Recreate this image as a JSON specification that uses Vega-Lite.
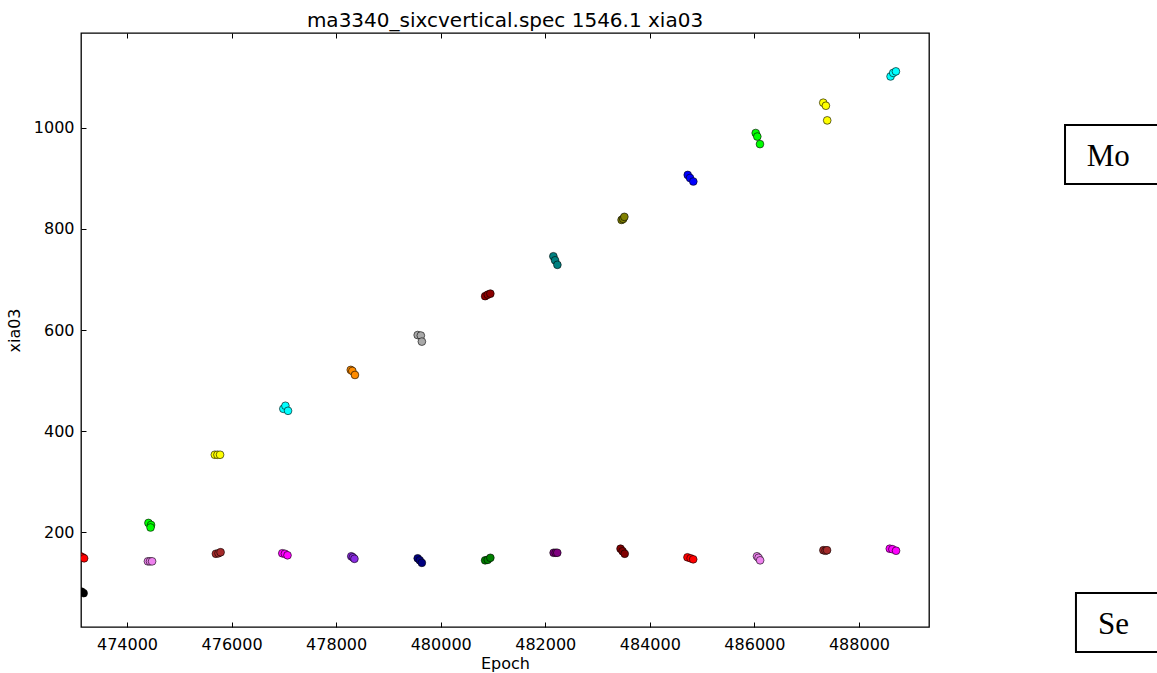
{
  "$schema": "https://vega.github.io/schema/vega-lite/v6.json",
  "autosize": "none",
  "width": 848,
  "height": 594,
  "padding": {"left": 81, "top": 33, "right": 228, "bottom": 46},
  "background": "white",
  "title": {
    "text": "ma3340_sixcvertical.spec 1546.1 xia03",
    "font": "DejaVu Sans",
    "fontSize": 20,
    "fontWeight": "normal",
    "color": "black",
    "anchor": "middle",
    "offset": 2
  },
  "config": {
    "view": {"stroke": "black", "strokeWidth": 1.3},
    "axis": {
      "labelFont": "DejaVu Sans",
      "labelFontSize": 16,
      "labelColor": "black",
      "titleFont": "DejaVu Sans",
      "titleFontSize": 16,
      "titleFontWeight": "normal",
      "titleColor": "black",
      "tickColor": "black",
      "tickSize": -5,
      "domain": false,
      "grid": false
    }
  },
  "datasets": {
    "obs": [
      {"set": "L01", "epoch": 473110, "value": 152},
      {"set": "L01", "epoch": 473150, "value": 150},
      {"set": "L01", "epoch": 473180, "value": 148},
      {"set": "U01", "epoch": 473130, "value": 82},
      {"set": "U01", "epoch": 473170, "value": 79},
      {"set": "L02", "epoch": 474400, "value": 142},
      {"set": "L02", "epoch": 474440, "value": 142},
      {"set": "L02", "epoch": 474480, "value": 142},
      {"set": "U02", "epoch": 474410, "value": 218},
      {"set": "U02", "epoch": 474460, "value": 214},
      {"set": "U02", "epoch": 474450, "value": 209},
      {"set": "L03", "epoch": 475700, "value": 157},
      {"set": "L03", "epoch": 475750, "value": 158},
      {"set": "L03", "epoch": 475790, "value": 160},
      {"set": "U03", "epoch": 475680, "value": 353},
      {"set": "U03", "epoch": 475730, "value": 353},
      {"set": "U03", "epoch": 475780, "value": 353},
      {"set": "L04", "epoch": 476970, "value": 158},
      {"set": "L04", "epoch": 477020, "value": 157},
      {"set": "L04", "epoch": 477070, "value": 154},
      {"set": "U04", "epoch": 476990, "value": 444},
      {"set": "U04", "epoch": 477030, "value": 450},
      {"set": "U04", "epoch": 477080, "value": 440},
      {"set": "L05", "epoch": 478290, "value": 152},
      {"set": "L05", "epoch": 478320, "value": 150},
      {"set": "L05", "epoch": 478350, "value": 147},
      {"set": "U05", "epoch": 478280, "value": 521},
      {"set": "U05", "epoch": 478310, "value": 519},
      {"set": "U05", "epoch": 478360, "value": 511},
      {"set": "L06", "epoch": 479560, "value": 148},
      {"set": "L06", "epoch": 479600, "value": 144},
      {"set": "L06", "epoch": 479640, "value": 139},
      {"set": "U06", "epoch": 479560, "value": 590},
      {"set": "U06", "epoch": 479620, "value": 589},
      {"set": "U06", "epoch": 479640, "value": 577},
      {"set": "L07", "epoch": 480850, "value": 144},
      {"set": "L07", "epoch": 480900, "value": 145},
      {"set": "L07", "epoch": 480950, "value": 149},
      {"set": "U07", "epoch": 480850, "value": 667},
      {"set": "U07", "epoch": 480900, "value": 670},
      {"set": "U07", "epoch": 480950, "value": 672},
      {"set": "L08", "epoch": 482160, "value": 159},
      {"set": "L08", "epoch": 482200, "value": 159},
      {"set": "L08", "epoch": 482230, "value": 159},
      {"set": "U08", "epoch": 482155, "value": 746},
      {"set": "U08", "epoch": 482188, "value": 738},
      {"set": "U08", "epoch": 482232, "value": 729},
      {"set": "L09", "epoch": 483440, "value": 167},
      {"set": "L09", "epoch": 483480, "value": 162},
      {"set": "L09", "epoch": 483520, "value": 157},
      {"set": "U09", "epoch": 483460, "value": 818},
      {"set": "U09", "epoch": 483490, "value": 820},
      {"set": "U09", "epoch": 483513, "value": 824},
      {"set": "L10", "epoch": 484720, "value": 150},
      {"set": "L10", "epoch": 484780, "value": 148},
      {"set": "L10", "epoch": 484830, "value": 146},
      {"set": "U10", "epoch": 484725, "value": 907},
      {"set": "U10", "epoch": 484769, "value": 901},
      {"set": "U10", "epoch": 484832, "value": 894},
      {"set": "L11", "epoch": 486050, "value": 152},
      {"set": "L11", "epoch": 486080, "value": 149},
      {"set": "L11", "epoch": 486110, "value": 144},
      {"set": "U11", "epoch": 486025, "value": 990},
      {"set": "U11", "epoch": 486056, "value": 983},
      {"set": "U11", "epoch": 486107, "value": 968},
      {"set": "L12", "epoch": 487320, "value": 164},
      {"set": "L12", "epoch": 487360, "value": 163},
      {"set": "L12", "epoch": 487390, "value": 164},
      {"set": "U12", "epoch": 487317, "value": 1050},
      {"set": "U12", "epoch": 487368, "value": 1044},
      {"set": "U12", "epoch": 487393, "value": 1015},
      {"set": "L13", "epoch": 488590, "value": 167},
      {"set": "L13", "epoch": 488640, "value": 166},
      {"set": "L13", "epoch": 488710, "value": 163},
      {"set": "U13", "epoch": 488605, "value": 1102},
      {"set": "U13", "epoch": 488655, "value": 1109},
      {"set": "U13", "epoch": 488707, "value": 1112}
    ],
    "notes": [
      {"label": "Mo", "left": 1.1604, "right": 1.28, "top": 0.8451, "bottom": 0.7458, "textX": 1.186, "textY": 0.7761},
      {"label": "Se", "left": 1.1733, "right": 1.28, "top": 0.0572, "bottom": -0.0421, "textX": 1.1993, "textY": -0.0118}
    ]
  },
  "layer": [
    {
      "data": {"name": "obs"},
      "layer": [
        {
          "mark": {"type": "point", "filled": true, "shape": "circle", "size": 60, "opacity": 1, "stroke": "black", "strokeWidth": 0.6, "clip": true},
          "encoding": {
            "x": {
              "field": "epoch", "type": "quantitative",
              "scale": {"domain": [473120, 489340], "nice": false, "zero": false},
              "axis": {"orient": "bottom", "title": "Epoch", "values": [474000, 476000, 478000, 480000, 482000, 484000, 486000, 488000], "format": "d", "labelPadding": 14, "titlePadding": 3, "labelFlush": false}
            },
            "y": {
              "field": "value", "type": "quantitative",
              "scale": {"domain": [12, 1188], "nice": false, "zero": false},
              "axis": {"orient": "left", "title": "xia03", "values": [200, 400, 600, 800, 1000], "format": "d", "labelPadding": 12, "titlePadding": 11}
            },
            "color": {
              "field": "set", "type": "nominal", "legend": null,
              "scale": {
                "domain": ["L01","L02","L03","L04","L05","L06","L07","L08","L09","L10","L11","L12","L13","U01","U02","U03","U04","U05","U06","U07","U08","U09","U10","U11","U12","U13"],
                "range": ["#ff0000","#ee82ee","#a52a2a","#ff00ff","#8a2be2","#000080","#008000","#800080","#800000","#ff0000","#ee82ee","#a52a2a","#ff00ff","#000000","#00ff00","#ffff00","#00ffff","#ff8c00","#a9a9a9","#8b0000","#008080","#808000","#0000ff","#00ff00","#ffff00","#00ffff"]
              }
            }
          }
        },
        {
          "mark": {"type": "point", "opacity": 0},
          "encoding": {
            "x": {
              "field": "epoch", "type": "quantitative",
              "axis": {"orient": "top", "title": null, "labels": false, "values": [474000, 476000, 478000, 480000, 482000, 484000, 486000, 488000]}
            },
            "y": {"field": "value", "type": "quantitative"}
          }
        }
      ]
    },
    {
      "data": {"name": "notes"},
      "layer": [
        {
          "mark": {"type": "rect", "fill": "white", "stroke": "black", "strokeWidth": 2},
          "encoding": {
            "x": {"field": "left", "type": "quantitative", "scale": {"domain": [0, 1], "nice": false, "zero": false}, "axis": null},
            "x2": {"field": "right"},
            "y": {"field": "top", "type": "quantitative", "scale": {"domain": [0, 1], "nice": false, "zero": false}, "axis": null},
            "y2": {"field": "bottom"}
          }
        },
        {
          "mark": {"type": "text", "font": "Liberation Serif", "fontSize": 31, "align": "left", "baseline": "alphabetic", "color": "black"},
          "encoding": {
            "x": {"field": "textX", "type": "quantitative", "scale": {"domain": [0, 1], "nice": false, "zero": false}, "axis": null},
            "y": {"field": "textY", "type": "quantitative", "scale": {"domain": [0, 1], "nice": false, "zero": false}, "axis": null},
            "text": {"field": "label"}
          }
        }
      ]
    }
  ],
  "resolve": {"scale": {"x": "independent", "y": "independent", "color": "independent"}}
}
